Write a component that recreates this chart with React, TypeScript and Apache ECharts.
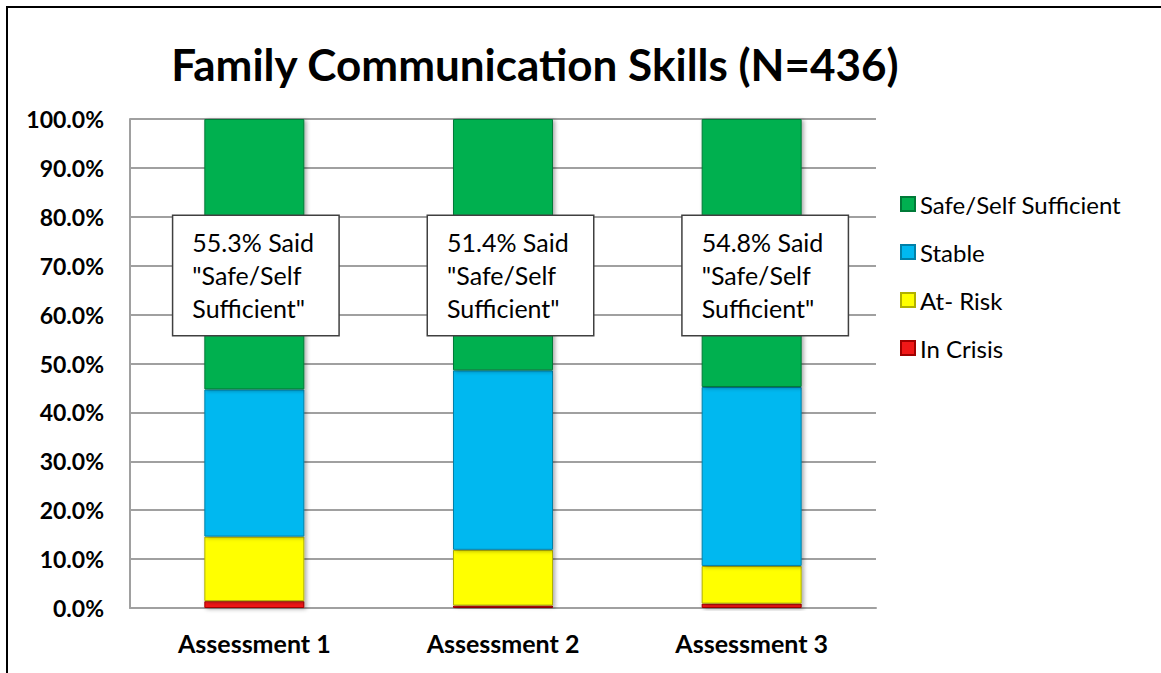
import React, { useEffect, useRef } from "react";
import * as echarts from "echarts";

const categories = ["Assessment 1", "Assessment 2", "Assessment 3"];
const seriesNames = ["In Crisis", "At- Risk", "Stable", "Safe/Self Sufficient"];
const inCrisis = [1.4, 0.5, 0.9];
const atRisk = [13.2, 11.4, 7.7];
const stable = [30.1, 36.7, 36.6];
const safeSelf = [55.3, 51.4, 54.8];
const yMin = 0;
const yMax = 100;
const yInterval = 10;
const annotationLevel = 68;
const titleText = "Family Communication Skills (N=436)";

const colors = ["#F01818", "#FFFF00", "#00B8F0", "#00B050"];
const borderColors = ["#A00000", "#B0B000", "#0080A8", "#007A38"];
const annotationShiftX = [-81, -75, -69];

const FONT = "Lato";

export default function App() {
  const ref = useRef<HTMLDivElement>(null);

  useEffect(() => {
    if (!ref.current) return;
    const chart = echarts.init(ref.current, null, { renderer: "svg" });
    const values = [inCrisis, atRisk, stable, safeSelf];

    const barSeries = values.map((vals, si) => ({
      name: seriesNames[si],
      type: "bar",
      stack: "total",
      barWidth: 100,
      data: vals,
      itemStyle: {
        color: colors[si],
        borderColor: borderColors[si],
        borderWidth: 1,
        shadowBlur: 4,
        shadowColor: "rgba(0,0,0,0.35)",
        shadowOffsetX: 2,
        shadowOffsetY: 1,
      },
      emphasis: { disabled: true },
      z: 2,
    }));

    const annotationSeries = {
      name: "annotation",
      type: "scatter",
      symbol: "circle",
      symbolSize: 1,
      itemStyle: { color: "rgba(0,0,0,0)", opacity: 1 },
      z: 10,
      data: categories.map((c, i) => ({
        value: [i, annotationLevel],
        label: { offset: [annotationShiftX[i], 0] },
      })),
      label: {
        show: true,
        position: "inside",
        align: "left",
        verticalAlign: "middle",
        formatter: (p: any) =>
          `${safeSelf[p.dataIndex].toFixed(1)}% Said\n"Safe/Self\nSufficient"`,
        backgroundColor: "#ffffff",
        borderColor: "#404040",
        borderWidth: 1.5,
        padding: [10, 10, 10, 19],
        width: 136,
        lineHeight: 33,
        fontSize: 25,
        fontFamily: FONT,
        color: "#000",
        opacity: 1,
      },
      emphasis: { disabled: true },
      silent: true,
    };

    chart.setOption({
      animation: false,
      backgroundColor: "#ffffff",
      title: {
        text: titleText,
        left: 522,
        top: 29,
        textAlign: "center",
        textStyle: {
          fontFamily: FONT,
          fontWeight: "bold",
          fontSize: 44,
          color: "#000",
        },
      },
      legend: {
        orient: "vertical",
        left: 892,
        top: 184,
        padding: 0,
        itemWidth: 14,
        itemHeight: 14,
        itemGap: 24,
        icon: "rect",
        data: ["Safe/Self Sufficient", "Stable", "At- Risk", "In Crisis"],
        textStyle: { fontFamily: FONT, fontSize: 24, color: "#000" },
      },
      grid: { left: 122, right: 285, top: 111, bottom: 65, containLabel: false },
      xAxis: {
        type: "category",
        data: categories,
        axisLine: { show: true, lineStyle: { color: "#A0A0A0", width: 2 } },
        axisTick: { show: false },
        axisLabel: {
          fontFamily: FONT,
          fontWeight: "bold",
          fontSize: 25,
          color: "#000",
          margin: 22,
        },
      },
      yAxis: {
        type: "value",
        min: yMin,
        max: yMax,
        interval: yInterval,
        axisLine: { show: true, lineStyle: { color: "#A0A0A0", width: 2 } },
        axisTick: { show: false },
        splitLine: { show: true, lineStyle: { color: "#A0A0A0", width: 2 } },
        axisLabel: {
          formatter: (v: number) => `${v.toFixed(1)}%`,
          fontFamily: FONT,
          fontWeight: "bold",
          fontSize: 23,
          color: "#000",
          margin: 26,
        },
      },
      series: [...barSeries, annotationSeries],
    });

    return () => chart.dispose();
  }, []);

  return (
    <>
      <div
        style={{
          position: "absolute",
          left: 6,
          top: 6,
          width: 1300,
          height: 800,
          border: "2px solid #000",
          boxSizing: "border-box",
        }}
      />
      <div
        ref={ref}
        style={{ position: "absolute", left: 8, top: 8, width: 1153, height: 665 }}
      />
    </>
  );
}
